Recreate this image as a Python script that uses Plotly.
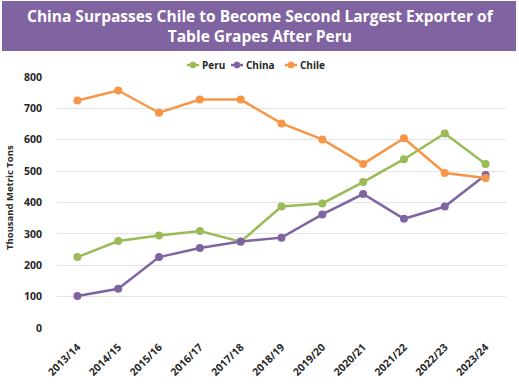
import plotly.graph_objects as go

seasons = ["2013/14", "2014/15", "2015/16", "2016/17", "2017/18", "2018/19",
           "2019/20", "2020/21", "2021/22", "2022/23", "2023/24"]
peru = [226, 277, 295, 309, 275, 387, 397, 465, 538, 620, 523]
china = [102, 125, 226, 255, 276, 288, 362, 427, 348, 387, 488]
chile = [725, 757, 686, 728, 728, 652, 601, 523, 605, 494, 478]
y_ticks = [0, 100, 200, 300, 400, 500, 600, 700, 800]
series_names = ["Peru", "China", "Chile"]
series_colors = ["#9BBB59", "#8064A2", "#F79646"]

title_text = "China Surpasses Chile to Become Second Largest Exporter of<br>Table Grapes After Peru"
y_title = "Thousand Metric Tons"

W, H = 519, 388
L, R, T, B = 57, 13, 77, 60
pw, ph = W - L - R, H - T - B

def px_x(x):
    return (x - L) / pw

def px_y(y):
    return (H - B - y) / ph

fig = go.Figure()
for name, vals, col in zip(series_names, [peru, china, chile], series_colors):
    fig.add_trace(go.Scatter(
        x=seasons, y=vals, name=name, mode="lines+markers",
        line=dict(color=col, width=2.5),
        marker=dict(color=col, size=8),
        showlegend=False,
    ))

# title banner
fig.add_shape(type="rect", xref="paper", yref="paper",
              x0=px_x(2), x1=px_x(516), y0=px_y(51), y1=px_y(1),
              fillcolor="#8064A2", line=dict(width=0), layer="below")
fig.add_annotation(xref="paper", yref="paper", x=px_x(260), y=px_y(26),
                   text="<b>" + title_text + "</b>", showarrow=False,
                   font=dict(family="Open Sans", size=15.5, color="white"),
                   xanchor="center", yanchor="middle", align="center")
# y axis title
fig.add_annotation(xref="paper", yref="paper", x=px_x(9), y=px_y(198),
                   text="<b>" + y_title + "</b>", showarrow=False, textangle=-90,
                   font=dict(family="Open Sans", size=9.5, color="#262626"),
                   xanchor="center", yanchor="middle")

# compact legend (Excel style): short line with marker, then label
legend_x = [187, 231, 285]
ly = 65
for lx, name, col in zip(legend_x, series_names, series_colors):
    fig.add_shape(type="line", xref="paper", yref="paper",
                  x0=px_x(lx), x1=px_x(lx + 12), y0=px_y(ly), y1=px_y(ly),
                  line=dict(color=col, width=2.5))
    fig.add_shape(type="circle", xref="paper", yref="paper",
                  x0=px_x(lx + 3), x1=px_x(lx + 9), y0=px_y(ly + 3), y1=px_y(ly - 3),
                  fillcolor=col, line=dict(color=col, width=1))
    fig.add_annotation(xref="paper", yref="paper", x=px_x(lx + 12.5), y=px_y(ly),
                       text="<b>" + name + "</b>", showarrow=False,
                       font=dict(family="Open Sans", size=10, color="#262626"),
                       xanchor="left", yanchor="middle")

fig.update_layout(
    width=W, height=H,
    margin=dict(l=L, r=R, t=T, b=B, autoexpand=False),
    paper_bgcolor="white", plot_bgcolor="white",
    font=dict(family="Open Sans", color="#262626"),
    showlegend=False,
    xaxis=dict(type="category", range=[-0.5, 10.5], tickangle=-45,
               showgrid=False, showline=False, ticks="", automargin=False,
               ticklabelstandoff=10,
               tickfont=dict(size=10.5, family="Open Sans", color="#262626", weight="bold")),
    yaxis=dict(range=[0, 800], tickvals=y_ticks, showgrid=True, gridcolor="#E4E4E4",
               gridwidth=1, zeroline=False, showline=False, ticks="", automargin=False,
               ticklabelstandoff=14,
               tickfont=dict(size=10.5, family="Open Sans", color="#262626", weight="bold")),
)

fig.write_html("out.html", config={"displayModeBar": False},
               post_script="document.body.style.margin='0';document.body.style.overflow='hidden';")
